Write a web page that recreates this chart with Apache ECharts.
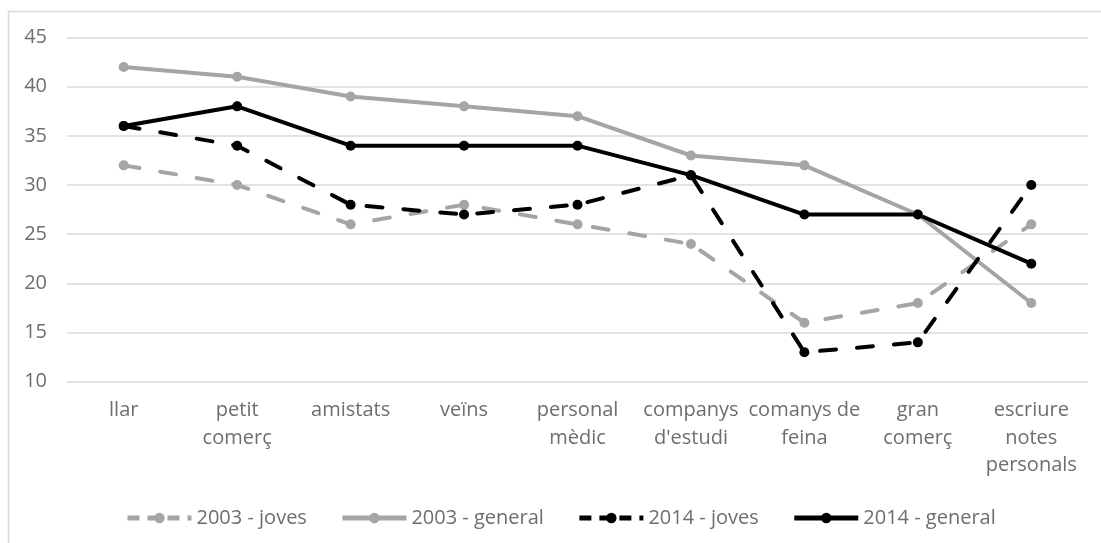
<!DOCTYPE html>
<html><head><meta charset="utf-8">
<script src="https://cdn.jsdelivr.net/npm/echarts@6/dist/echarts.min.js"></script>
<style>html,body{margin:0;padding:0;background:#fff}#c{width:1101px;height:543px}</style>
</head><body><div id="c"></div>
<script>
const categories = ['llar', 'petit\ncomerç', 'amistats', 'veïns', 'personal\nmèdic', 'companys\nd\'estudi', 'comanys de\nfeina', 'gran\ncomerç', 'escriure\nnotes\npersonals'];
const joves2003 = [32, 30, 26, 28, 26, 24, 16, 18, 26];
const general2003 = [42, 41, 39, 38, 37, 33, 32, 27, 18];
const joves2014 = [36, 34, 28, 27, 28, 31, 13, 14, 30];
const general2014 = [36, 38, 34, 34, 34, 31, 27, 27, 22];
const seriesNames = ['2003 - joves', '2003 - general', '2014 - joves', '2014 - general'];

const gray = '#a5a5a5', black = '#000000';
function mk(name, data, color, dashed) {
  return {
    name, type: 'line', data,
    symbol: 'circle', symbolSize: 10,
    itemStyle: { color },
    lineStyle: { color, width: 4, type: dashed ? [16, 21] : 'solid', cap: dashed ? 'round' : 'butt' },
    emphasis: { disabled: true }
  };
}
const font = 'Open Sans, Liberation Sans, sans-serif';
const txt = '#6e6e6e';
const chart = echarts.init(document.getElementById('c'), null, { renderer: 'canvas' });
chart.setOption({
  animation: false,
  textStyle: { fontFamily: font },
  grid: { left: 67, right: 13, top: 37.5, bottom: 161.3 },
  graphic: [{ type: 'rect', silent: true, shape: { x: 8.5, y: 11.5, width: 1200, height: 600 }, style: { fill: 'none', stroke: '#d9d9d9', lineWidth: 1.5 } }],
  legend: {
    top: 503, left: 120, itemWidth: 64, itemHeight: 13, itemGap: 33,
    textStyle: { color: txt, fontSize: 20, fontFamily: font },
    lineStyle: { width: 5, cap: 'butt' },
    data: seriesNames.map((n, i) => ({ name: n, lineStyle: { type: i % 2 === 0 ? [12, 8] : 'solid' } }))
  },
  xAxis: {
    type: 'category', data: categories, boundaryGap: true,
    axisLine: { show: false }, axisTick: { show: false },
    axisLabel: { color: txt, fontSize: 20, lineHeight: 27.5, margin: 15, interval: 0, fontFamily: font }
  },
  yAxis: {
    type: 'value', min: 10, max: 45, interval: 5,
    axisLine: { show: false }, axisTick: { show: false },
    axisLabel: { color: txt, fontSize: 20, margin: 20, fontFamily: font },
    splitLine: { lineStyle: { color: '#d9d9d9', width: 1.5 } }
  },
  series: [
    mk(seriesNames[0], joves2003, gray, true),
    mk(seriesNames[1], general2003, gray, false),
    mk(seriesNames[2], joves2014, black, true),
    mk(seriesNames[3], general2014, black, false)
  ]
});
</script></body></html>
